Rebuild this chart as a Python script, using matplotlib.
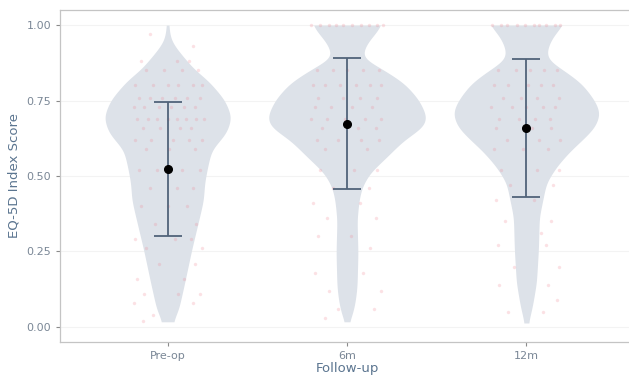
import matplotlib
matplotlib.use('Agg')
import matplotlib.pyplot as plt
import numpy as np

groups = ["Pre-op", "6m", "12m"]

# summary: mean and one standard deviation
means = [0.522, 0.673, 0.658]
sds = [0.222, 0.217, 0.228]

# violin outlines: score levels and half-width (x units) at each level
preop_levels = [1.00, 0.95, 0.917, 0.851, 0.818, 0.752, 0.695, 0.642, 0.586, 0.530,
                0.477, 0.42, 0.364, 0.255, 0.146, 0.056, 0.017]
preop_half = [0.006, 0.017, 0.056, 0.150, 0.223, 0.318, 0.357, 0.329, 0.245, 0.223,
              0.206, 0.200, 0.178, 0.134, 0.095, 0.061, 0.03]

m6_levels = [1.00, 0.974, 0.94, 0.917, 0.891, 0.861, 0.808, 0.752, 0.695, 0.662, 0.619,
             0.563, 0.51, 0.464, 0.42, 0.354, 0.245, 0.132, 0.079, 0.036, 0.017]
m6_half = [0.195, 0.162, 0.111, 0.095, 0.078, 0.178, 0.318, 0.401, 0.446, 0.429, 0.318,
           0.223, 0.128, 0.084, 0.067, 0.056, 0.061, 0.056, 0.045, 0.028, 0.011]

m12_levels = [1.00, 0.974, 0.94, 0.907, 0.884, 0.851, 0.808, 0.752, 0.709, 0.662, 0.619,
              0.586, 0.563, 0.53, 0.477, 0.43, 0.364, 0.255, 0.146, 0.066, 0.013]
m12_half = [0.209, 0.162, 0.128, 0.111, 0.117, 0.206, 0.306, 0.379, 0.412, 0.384, 0.312,
            0.25, 0.215, 0.167, 0.111, 0.095, 0.072, 0.067, 0.056, 0.033, 0.011]

# individual patient scores (y) with their horizontal jitter (dx)
preop_y = [0.97, 0.93, 0.88, 0.88, 0.88, 0.85, 0.85, 0.85, 0.85,
           0.80, 0.80, 0.80, 0.80, 0.80, 0.80, 0.76, 0.76, 0.76, 0.76, 0.76, 0.76,
           0.73, 0.73, 0.73, 0.73, 0.73, 0.73, 0.69, 0.69, 0.69, 0.69, 0.69, 0.69, 0.69, 0.69,
           0.66, 0.66, 0.66, 0.66, 0.62, 0.62, 0.62, 0.62, 0.62, 0.59, 0.59, 0.59,
           0.52, 0.52, 0.52, 0.52, 0.46, 0.46, 0.46, 0.40, 0.40, 0.40, 0.34, 0.34,
           0.29, 0.29, 0.29, 0.26, 0.26, 0.21, 0.21, 0.16, 0.16, 0.11, 0.11, 0.11,
           0.08, 0.08, 0.04, 0.02]
preop_dx = [-0.10, 0.14, -0.15, 0.05, 0.12, -0.12, -0.02, 0.08, 0.17,
            -0.18, -0.08, 0.00, 0.06, 0.14, 0.19, -0.16, -0.10, -0.03, 0.04, 0.11, 0.18,
            -0.19, -0.13, -0.05, 0.02, 0.09, 0.15, -0.17, -0.11, -0.06, 0.00, 0.05, 0.10, 0.16, 0.20,
            -0.14, -0.04, 0.07, 0.13, -0.18, -0.09, 0.03, 0.12, 0.19, -0.12, 0.01, 0.15,
            -0.16, -0.06, 0.08, 0.18, -0.10, 0.05, 0.14, -0.15, 0.00, 0.11, -0.07, 0.16,
            -0.18, 0.04, 0.13, -0.12, 0.19, -0.05, 0.15, -0.17, 0.09, -0.13, 0.06, 0.18,
            -0.19, 0.14, -0.08, -0.14]

m6_y = [1.0, 1.0, 1.0, 1.0, 1.0, 1.0, 1.0, 1.0, 1.0, 1.0,
        0.85, 0.85, 0.85, 0.85, 0.85, 0.80, 0.80, 0.80, 0.80, 0.80, 0.80,
        0.76, 0.76, 0.76, 0.76, 0.73, 0.73, 0.73, 0.73, 0.69, 0.69, 0.69, 0.69, 0.69,
        0.66, 0.66, 0.66, 0.62, 0.62, 0.62, 0.62, 0.59, 0.59, 0.52, 0.52, 0.52,
        0.46, 0.46, 0.41, 0.41, 0.36, 0.36, 0.30, 0.30, 0.26, 0.18, 0.18,
        0.12, 0.12, 0.06, 0.06, 0.03]
m6_dx = [-0.20, -0.15, -0.10, -0.06, -0.02, 0.03, 0.08, 0.12, 0.17, 0.20,
         -0.17, -0.08, 0.00, 0.09, 0.18, -0.19, -0.12, -0.04, 0.05, 0.13, 0.19,
         -0.16, -0.02, 0.07, 0.17, -0.18, -0.09, 0.03, 0.14, -0.20, -0.11, -0.01, 0.10, 0.19,
         -0.14, 0.06, 0.16, -0.17, -0.05, 0.08, 0.18, -0.12, 0.11, -0.15, 0.04, 0.17,
         -0.08, 0.12, -0.19, 0.07, -0.11, 0.16, -0.16, 0.02, 0.13, -0.18, 0.09,
         -0.10, 0.19, -0.05, 0.15, -0.12]

m12_y = [1.0, 1.0, 1.0, 1.0, 1.0, 1.0, 1.0, 1.0, 1.0, 1.0,
         0.85, 0.85, 0.85, 0.85, 0.85, 0.80, 0.80, 0.80, 0.80, 0.80,
         0.76, 0.76, 0.76, 0.76, 0.73, 0.73, 0.73, 0.73, 0.73, 0.69, 0.69, 0.69, 0.69,
         0.66, 0.66, 0.66, 0.62, 0.62, 0.62, 0.59, 0.59, 0.59, 0.52, 0.52, 0.52,
         0.47, 0.47, 0.42, 0.42, 0.35, 0.35, 0.31, 0.27, 0.27, 0.20, 0.20,
         0.14, 0.14, 0.09, 0.05, 0.05]
m12_dx = [-0.19, -0.14, -0.11, -0.05, -0.01, 0.04, 0.07, 0.11, 0.16, 0.19,
          -0.16, -0.06, 0.02, 0.10, 0.17, -0.18, -0.10, 0.01, 0.08, 0.15,
          -0.13, -0.03, 0.06, 0.18, -0.20, -0.08, 0.00, 0.09, 0.16, -0.15, -0.04, 0.05, 0.13,
          -0.17, 0.03, 0.14, -0.11, 0.07, 0.19, -0.18, -0.02, 0.12, -0.14, 0.06, 0.18,
          -0.09, 0.15, -0.17, 0.04, -0.12, 0.14, 0.08, -0.16, 0.11, -0.07, 0.18,
          -0.15, 0.12, 0.17, -0.10, 0.09]

violins = [(preop_levels, preop_half), (m6_levels, m6_half), (m12_levels, m12_half)]
points = [(preop_y, preop_dx), (m6_y, m6_dx), (m12_y, m12_dx)]

text_col = "#5b7590"
tick_col = "#7a8796"


def smooth_outline(levels, half, bw=0.018):
    # resample the outline on a fine grid and soften the corners
    lv = np.array(levels)[::-1]
    hw = np.array(half)[::-1]
    grid = np.linspace(lv[0], lv[-1], 400)
    w = np.interp(grid, lv, hw)
    step = grid[1] - grid[0]
    k = np.arange(-4 * bw, 4 * bw + step, step)
    kern = np.exp(-0.5 * (k / bw) ** 2)
    kern /= kern.sum()
    pad = len(k) // 2
    wp = np.pad(w, pad, mode="edge")
    ws = np.convolve(wp, kern, mode="same")[pad:-pad]
    return grid, ws


fig = plt.figure(figsize=(6.29, 3.78), dpi=100)
ax = fig.add_axes([60 / 629, 36 / 378, 574 / 629, 332 / 378])

for i, (lv, hw) in enumerate(violins):
    x = i + 1
    g, w = smooth_outline(lv, hw)
    ax.fill_betweenx(g, x - w, x + w, color="#dde2e9", linewidth=0, zorder=2)

for i, (ys, dxs) in enumerate(points):
    x = i + 1
    ax.scatter([x + d for d in dxs], ys, s=6, color="#f08a96", alpha=0.25,
               linewidths=0, zorder=3)

for i, (m, s) in enumerate(zip(means, sds)):
    x = i + 1
    ax.errorbar(x, m, yerr=s, fmt="none", ecolor="#51637a", elinewidth=1.3,
                capsize=10, capthick=1.3, zorder=4)
    ax.plot(x, m, "o", color="black", markersize=5.5, zorder=5)

ax.set_xlim(0.4, 3.6)
ax.set_ylim(-0.05, 1.05)
ax.set_xticks([1, 2, 3])
ax.set_xticklabels(groups)
ax.set_yticks([0, 0.25, 0.5, 0.75, 1.0])
ax.set_yticklabels(["0.00", "0.25", "0.50", "0.75", "1.00"])
ax.grid(axis="y", color="#f3f3f3", linewidth=0.8, zorder=0)
ax.set_axisbelow(True)

for side in ["left", "bottom", "top", "right"]:
    ax.spines[side].set_color("#c4c4c4")
    ax.spines[side].set_linewidth(0.9)

ax.tick_params(axis="both", colors="#8a8a8a", labelcolor=tick_col, labelsize=8,
               length=3, width=0.8)

ax.set_xlabel("Follow-up", color=text_col, fontsize=9.5, labelpad=1)
ax.set_ylabel("EQ-5D Index Score", color=text_col, fontsize=9.5, labelpad=4)

plt.savefig("out.png", dpi=100)
